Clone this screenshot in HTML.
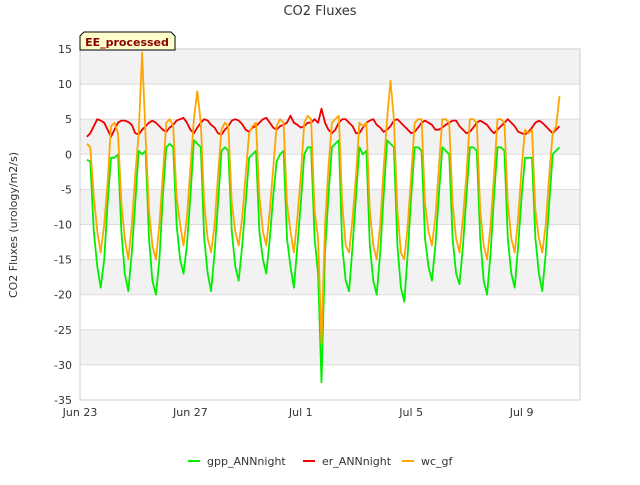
<!DOCTYPE html>
<html><head><meta charset="utf-8"><style>
body{margin:0;background:#fff;font-family:"Liberation Sans","DejaVu Sans",sans-serif;}
svg text{font-family:"DejaVu Sans","Liberation Sans",sans-serif;}
</style></head><body>
<svg id="chart" width="640" height="480" viewBox="0 0 640 480">
<text x="320" y="15" text-anchor="middle" font-size="13" fill="#333">CO2 Fluxes</text>
<g id="bands"></g>
<g id="grid"></g>
<rect x="80" y="49" width="500" height="351" fill="none" stroke="#ccc"/>
<g id="yticks"></g>
<g id="xticks"></g>
<text transform="translate(17,225) rotate(-90)" text-anchor="middle" font-size="11" fill="#333">CO2 Fluxes (urology/m2/s)</text>
<g id="series"></g>
<g>
<path d="M80,50 L80,36 L84,32 L171,32 L175,36 L175,50 Z" fill="#ffffcc" stroke="#000" stroke-width="1"/>
<text x="127" y="46" text-anchor="middle" font-size="11" font-weight="bold" fill="#8b0000">EE_processed</text>
</g>
<g>
<g><line x1="188" y1="461" x2="200" y2="461" stroke="#00ee00" stroke-width="2"/><text x="207" y="465" font-size="11" fill="#333">gpp_ANNnight</text></g>
<g><line x1="303" y1="461" x2="315" y2="461" stroke="#ee0000" stroke-width="2"/><text x="322" y="465" font-size="11" fill="#333">er_ANNnight</text></g>
<g><line x1="402" y1="461" x2="414" y2="461" stroke="#ffa500" stroke-width="2"/><text x="421" y="465" font-size="11" fill="#333">wc_gf</text></g>
</g>
</svg>
<script>
const yTicks=[15,10,5,0,-5,-10,-15,-20,-25,-30,-35];
const xTickLabels=["Jun 23","Jun 27","Jul 1","Jul 5","Jul 9"];
const xTickDays=[0,4,8,12,16];
const startDay=0.25, stepDay=0.125;
const gpp=[
-0.8,-1,-11,-16,-19,-15,
-7,-0.5,-0.5,0,-11,-17,-19.5,-14,
-7,0.5,0,0.5,-12,-18,-20,-15,
-6,1,1.5,1,-10,-15,-17,-13,
-6,2,1.5,1,-12,-17,-19.5,-14,
-7,0.5,1,0.5,-11,-16,-18,-13,
-7,-0.5,0,0.5,-11,-15,-17,-12,
-6,-1,0,0.5,-12,-16,-19,-13,
-7,0,1,1,-12,-17,-32.5,-14,
-6,1,1.5,2,-13,-18,-19.5,-13,
-6,1,0,0.5,-13,-18,-20,-14,
-6,2,1.5,1,-13,-19,-21,-14,
-6,1,1,0.5,-12,-16,-18,-13,
-6,1,0.5,0,-12,-17,-18.5,-13,
-6,1,1,0.5,-12,-18,-20,-14,
-6,1,1,0.5,-12,-17,-19,-13,
-6,-0.5,-0.5,-0.5,-12,-17,-19.5,-14,
-7,0,0.5,1];
const er=[
2.5,3,4,5,4.8,4.5,
3.5,2.5,3.5,4.5,4.8,4.8,4.6,4.2,
3,2.8,3.5,4,4.5,4.8,4.5,4,
3.5,3.2,3.8,4.2,4.8,5,5.2,4.5,
3.5,3,3.8,4.5,5,4.8,4.2,3.8,
3,2.8,3.5,4,4.8,5,4.8,4.3,
3.5,3.2,3.8,4,4.5,5,5.2,4.5,
3.8,3.5,4,4.2,4.5,5.5,4.5,4.2,
3.8,4,4.5,4.5,5,4.5,6.5,4.5,
3.5,3,3.5,4.5,5,5,4.5,4,
3,3,3.8,4.5,4.8,5,4.2,3.8,
3.2,3.5,4,4.8,5,4.5,4,3.5,
3,3.2,3.8,4.5,4.8,4.5,4.2,3.5,
3.5,3.8,4.2,4.5,4.8,4.8,4,3.5,
3,3.2,3.8,4.5,4.8,4.5,4.2,3.5,
3,3.5,4,4.5,5,4.5,4,3.2,
3,2.8,3.2,3.8,4.5,4.8,4.5,4,
3.5,3,3.5,4];
const wc=[
1.5,1,-6,-11,-14,-10,
-4,4,4.5,3,-7,-12,-15,-10,
-3,3,14.5,2.5,-8,-13,-15,-10,
-3,4.5,5,4,-6,-10,-13,-9,
-2,5,9,4.5,-7,-12,-14,-10,
-3,3.5,4.5,4,-7,-11,-13,-9,
-3,3,4,4.5,-6,-11,-13,-8,
-2,4,5,4.5,-7,-11,-14,-9,
-3,4.5,5.5,5,-8,-12,-27,-10,
-2,4.5,5,5.5,-7,-13,-14,-9,
-3,4.5,4,4.5,-8,-13,-15,-10,
-2,5,10.5,5,-8,-14,-15,-10,
-3,4.5,5,5,-7,-11,-13,-9,
-2,5,5,4.5,-7,-12,-14,-9,
-3,5,5,4.5,-8,-13,-15,-10,
-3,5,5,4.5,-7,-12,-14,-9,
-2,3.5,3,3.5,-8,-12,-14,-10,
-3,3,4,8.3];
const NS="http://www.w3.org/2000/svg";
const X0=80,PXD=27.6;
function xs(d){return X0+d*PXD;}
function ys(v){return 49+(15-v)*(351/50);}
const bands=document.getElementById('bands');
for(let i=0;i<yTicks.length-1;i++){
 if(i%2===0){
  const r=document.createElementNS(NS,'rect');
  r.setAttribute('x',80);r.setAttribute('width',500);
  r.setAttribute('y',ys(yTicks[i]));r.setAttribute('height',ys(yTicks[i+1])-ys(yTicks[i]));
  r.setAttribute('fill','#f2f2f2');
  
  
  bands.appendChild(r);
 }
}
const grid=document.getElementById('grid'),yt=document.getElementById('yticks');
yTicks.forEach(v=>{
 const l=document.createElementNS(NS,'line');
 l.setAttribute('x1',80);l.setAttribute('x2',580);l.setAttribute('y1',ys(v));l.setAttribute('y2',ys(v));
 l.setAttribute('stroke','#ddd');
 
 
 grid.appendChild(l);
 const t=document.createElementNS(NS,'text');
 t.setAttribute('x',72);t.setAttribute('y',ys(v)+4);t.setAttribute('text-anchor','end');
 t.setAttribute('font-size','11');t.setAttribute('fill','#333');t.textContent=v;
 
 
 yt.appendChild(t);
});
const xt=document.getElementById('xticks');
xTickLabels.forEach((s,i)=>{
 const t=document.createElementNS(NS,'text');
 t.setAttribute('x',xs(xTickDays[i]));t.setAttribute('y',416);t.setAttribute('text-anchor','middle');
 t.setAttribute('font-size','11');t.setAttribute('fill','#333');t.textContent=s;
 
 
 xt.appendChild(t);
});
const ser=document.getElementById('series');
function draw(arr,color,name){
 const p=document.createElementNS(NS,'polyline');
 p.setAttribute('points',arr.map((v,i)=>xs(startDay+i*stepDay).toFixed(1)+','+ys(v).toFixed(1)).join(' '));
 p.setAttribute('fill','none');p.setAttribute('stroke',color);p.setAttribute('stroke-width','1.8');
 p.setAttribute('stroke-linejoin','round');
 
 
 ser.appendChild(p);
}
draw(gpp,'#00ee00','gpp-line');
draw(er,'#ee0000','er-line');
draw(wc,'#ffa500','wc-line');
</script>
</body></html>
